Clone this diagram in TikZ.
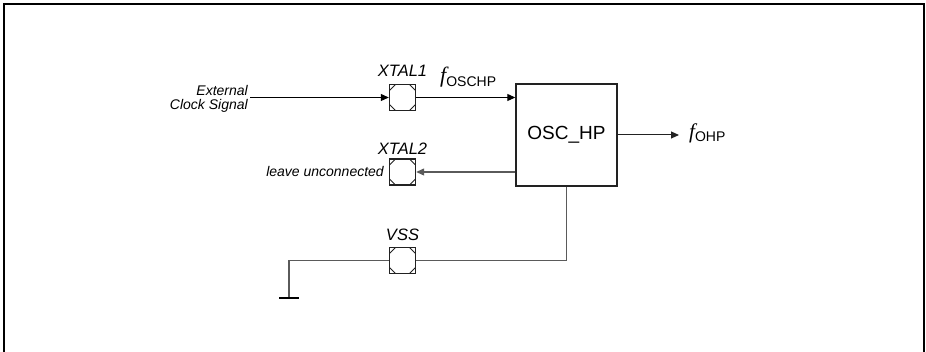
\documentclass[tikz,border=0pt]{standalone}
\usepackage{fontspec}
\setmainfont{Liberation Sans}
\newfontfamily\serifff{Liberation Serif}
\usetikzlibrary{arrows.meta}
\definecolor{wire}{HTML}{5A5A5A}
\definecolor{edge}{HTML}{222222}
\tikzset{
  pad/.style={draw=edge, line width=1.4pt, minimum width=26pt, minimum height=26pt, inner sep=0pt,
    path picture={
      \draw[edge, line width=1pt]
        ([xshift=6pt]path picture bounding box.north west) -- ([yshift=-6pt]path picture bounding box.north west)
        ([xshift=-6pt]path picture bounding box.north east) -- ([yshift=-6pt]path picture bounding box.north east)
        ([xshift=6pt]path picture bounding box.south west) -- ([yshift=6pt]path picture bounding box.south west)
        ([xshift=-6pt]path picture bounding box.south east) -- ([yshift=6pt]path picture bounding box.south east);
    }},
  pinlabel/.style={font=\itshape\fontsize{16.5}{16.5}\selectfont, inner sep=0pt, anchor=base},
  smalllabel/.style={font=\itshape\fontsize{14}{14}\selectfont, inner sep=0pt},
  tip/.style={-{Triangle[length=8pt,width=7pt]}},
  blk/.style={draw=edge, line width=1.4pt, minimum width=101pt, minimum height=102pt, inner sep=0pt,
    font=\fontsize{19}{19}\selectfont},
}
\begin{document}
\begin{tikzpicture}[x=1pt,y=-1pt]
\useasboundingbox (0,0) rectangle (926,352);
\draw[line width=2pt] (4,352) -- (4,4) -- (924,4) -- (924,352);

\node[pad] (pad1) at (402.5,97.5) {};
\node[pad] (pad2) at (402.5,172) {};
\node[pad] (pad3) at (402.5,260.5) {};
\node[blk] (osc) at (566.5,135) {OSC\_HP};

\node[pinlabel] (l1) at (402.5,77) {XTAL1};
\node[pinlabel] (l2) at (402.5,155) {XTAL2};
\node[pinlabel] (l3) at (402.5,241) {VSS};

\node[smalllabel, align=right, anchor=east] (ext) at (248,99) {External\\Clock Signal};
\node[smalllabel, anchor=base east] (lu) at (384,177) {leave unconnected};

\node[inner sep=0pt, anchor=base west] (fosc) at (440,83)
  {{\serifff\itshape\fontsize{22}{22}\selectfont f}\raisebox{-4pt}{\fontsize{14}{14}\selectfont OSCHP}};
\node[inner sep=0pt, anchor=base west] (fohp) at (689,139)
  {{\serifff\itshape\fontsize{21}{21}\selectfont f}\raisebox{-3pt}{\fontsize{14}{14}\selectfont OHP}};

\coordinate (extend) at (250,97.5);
\coordinate (outend) at (679,135);
\coordinate (gndc) at (289,260.5);
\coordinate (gnd) at (289,298);

\draw[tip, line width=1pt] (extend) -- (pad1.west);
\draw[tip, line width=1pt] (pad1.east) -- (osc.west |- pad1.east);
\draw[tip, wire, line width=1.2pt] (osc.west |- pad2.east) -- (pad2.east);
\draw[tip, edge, line width=1pt] (osc.east) -- (outend);
\draw[wire, line width=1.2pt] (osc.south) -- (osc.south |- pad3.east) -- (pad3.east);
\draw[wire, line width=1.2pt] (pad3.west) -- (gndc) -- (gnd);
\draw[line width=2.5pt] ([xshift=-10pt]gnd) -- ([xshift=10pt]gnd);
\end{tikzpicture}
\end{document}
